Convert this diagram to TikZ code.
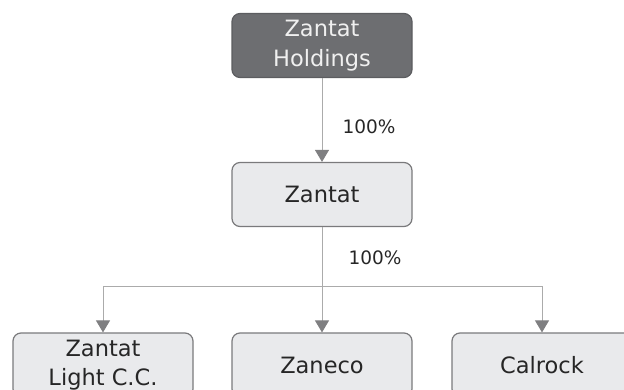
\documentclass[tikz,border=0pt]{standalone}
\usepackage{fontspec}
\setmainfont{DejaVu Sans}
\usetikzlibrary{arrows.meta}

\definecolor{boxdark}{HTML}{6D6E71}
\definecolor{boxdarkline}{HTML}{5C5D60}
\definecolor{boxfill}{HTML}{E9EAEC}
\definecolor{boxline}{HTML}{7A7A7C}
\definecolor{linegray}{HTML}{ABABAB}
\definecolor{tipgray}{HTML}{7F7F81}

\begin{document}
\begin{tikzpicture}[x=1pt, y=-1pt,
    entity/.style={draw=boxline, fill=boxfill, rounded corners=8pt, line width=1.2pt,
        minimum width=180pt, minimum height=64pt, inner sep=0pt, align=center,
        font=\fontsize{22.5}{29.5}\selectfont, text=black!85},
    holding/.style={entity, fill=boxdark, draw=boxdarkline, text=white!94!black},
    link/.style={draw=linegray, line width=0.9pt},
    tip/.style={-{Triangle[width=14pt, length=12pt, color=tipgray]}},
    share/.style={font=\fontsize{18.5}{20}\selectfont, text=black!85}]

    \useasboundingbox (0,0) rectangle (624,390);

    \node[holding] (hold) at (322,45.5) {Zantat\\Holdings};
    \node[entity] (zantat) at (322,194.5) {Zantat};

    \node[entity] (light) at (103,365) {Zantat\\Light C.C.};
    \node[entity] (zaneco) at (322,365) {Zaneco};
    \node[entity] (calrock) at (542,365) {Calrock};

    \draw[link, tip] (hold) -- (zantat);
    \node[share] (pct1) at (369,127) {100\%};

    \coordinate (split) at (322,286);
    \draw[link] (zantat) -- (split);
    \node[share] (pct2) at (375,258) {100\%};

    \foreach \c in {light, zaneco, calrock} {
        \draw[link, tip] (split) -| (\c);
    }

\end{tikzpicture}
\end{document}
